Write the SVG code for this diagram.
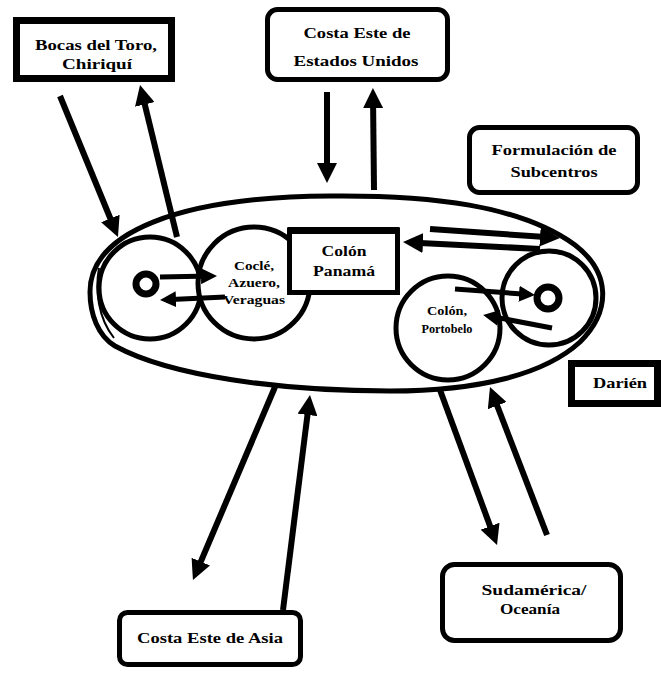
<svg xmlns="http://www.w3.org/2000/svg" width="661" height="675" viewBox="0 0 661 675">
<style>
.t{font-family:"Liberation Serif","Times New Roman",serif;font-weight:bold;font-size:15px;fill:#000;text-anchor:middle}
.s{font-size:13px}
.box{fill:#fff;stroke:#000}
.c{fill:#fff;stroke:#000;stroke-width:5}
.a{stroke:#000;stroke-width:6;fill:none;marker-end:url(#ah)}
.b{stroke:#000;stroke-width:5;fill:none;marker-end:url(#ahs)}
</style>
<defs>
<marker id="ah" viewBox="0 0 20 20" refX="13" refY="10" markerWidth="20" markerHeight="20" markerUnits="userSpaceOnUse" orient="auto"><path d="M0,0 L20,10 L0,20 z" fill="#000"/></marker>
<marker id="ahs" viewBox="0 0 16 16" refX="10" refY="8" markerWidth="16" markerHeight="16" markerUnits="userSpaceOnUse" orient="auto"><path d="M0,0 L16,8 L0,16 z" fill="#000"/></marker>
</defs>
<rect width="661" height="675" fill="#fff"/>
<g id="region">
<path d="M90,292 C90,232 180,197 330,196 C430,195 520,205 575,245 C610,272 612,310 580,342 C545,374 480,391 390,391 C280,391 170,376 115,346 C98,336 90,314 90,292 Z" fill="none" stroke="#000" stroke-width="5"/>
<path d="M99,268 C95,290 98,318 114,338" fill="none" stroke="#000" stroke-width="2"/>
</g>
<g id="bocas-circle"><circle class="c" cx="150" cy="288" r="51"/><circle cx="146" cy="284" r="10" fill="#fff" stroke="#000" stroke-width="7"/></g>
<g id="cocle"><circle class="c" cx="254" cy="283" r="56"/>
<text class="t s" x="254" y="270" textLength="40" lengthAdjust="spacingAndGlyphs">Coclé,</text>
<text class="t s" x="254" y="287" textLength="52" lengthAdjust="spacingAndGlyphs">Azuero,</text>
<text class="t s" x="254" y="304" textLength="62" lengthAdjust="spacingAndGlyphs">Veraguas</text></g>
<g id="colon-circle"><circle class="c" cx="448" cy="328" r="52"/>
<text class="t s" x="447" y="315" textLength="40" lengthAdjust="spacingAndGlyphs">Colón,</text>
<text class="t s" x="447" y="333" textLength="51" lengthAdjust="spacingAndGlyphs">Portobelo</text></g>
<g id="darien-circle"><circle class="c" cx="549" cy="298" r="47"/><circle cx="548" cy="298" r="11" fill="#fff" stroke="#000" stroke-width="7"/></g>
<g id="colon-panama"><rect class="box" x="289.5" y="230.5" width="108" height="62" stroke-width="5"/><path d="M287,227 L400,227 L395,234 L292,234 Z" fill="#000"/>
<text class="t" x="344" y="256" textLength="45" lengthAdjust="spacingAndGlyphs">Colón</text>
<text class="t" x="344" y="276" textLength="62" lengthAdjust="spacingAndGlyphs">Panamá</text></g>
<g id="bocas"><rect class="box" x="16.5" y="20.5" width="155" height="58" stroke-width="7"/>
<text class="t" x="96" y="50" textLength="122" lengthAdjust="spacingAndGlyphs">Bocas del Toro,</text>
<text class="t" x="97" y="69" textLength="70" lengthAdjust="spacingAndGlyphs">Chiriquí</text></g>
<g id="eeuu"><rect class="box" x="267.5" y="9.5" width="180" height="70" rx="10" stroke-width="5"/>
<text class="t" x="357" y="38" textLength="107" lengthAdjust="spacingAndGlyphs">Costa Este de</text>
<text class="t" x="356" y="66" textLength="125" lengthAdjust="spacingAndGlyphs">Estados Unidos</text></g>
<g id="subcentros"><rect class="box" x="469.5" y="127.5" width="168" height="65" rx="10" stroke-width="5"/>
<text class="t" x="554" y="155" textLength="125" lengthAdjust="spacingAndGlyphs">Formulación de</text>
<text class="t" x="554" y="177" textLength="87" lengthAdjust="spacingAndGlyphs">Subcentros</text></g>
<g id="darien"><rect class="box" x="571.5" y="363.5" width="86" height="40" stroke-width="7"/>
<text class="t" x="620" y="388" textLength="54" lengthAdjust="spacingAndGlyphs">Darién</text></g>
<g id="asia"><rect class="box" x="119.5" y="612.5" width="181" height="52" rx="8" stroke-width="5"/>
<text class="t" x="210" y="643" textLength="146" lengthAdjust="spacingAndGlyphs">Costa Este de Asia</text></g>
<g id="sudamerica"><rect class="box" x="442.5" y="564.5" width="178" height="76" rx="12" stroke-width="5"/>
<text class="t" x="534" y="595" textLength="105" lengthAdjust="spacingAndGlyphs">Sudamérica/</text>
<text class="t" x="530" y="614" textLength="60" lengthAdjust="spacingAndGlyphs">Oceanía</text></g>
<g id="connectors">
<line class="a" x1="60" y1="96" x2="115.3" y2="230.5"/>
<line class="a" x1="177" y1="237" x2="141.7" y2="91.8"/>
<line class="a" x1="327" y1="92" x2="327" y2="176"/>
<line class="a" x1="374" y1="190" x2="373" y2="95"/>
<line class="a" x1="275" y1="387" x2="195.7" y2="573.6"/>
<line class="a" x1="283" y1="610" x2="309.1" y2="402"/>
<line class="a" x1="440" y1="390" x2="494.6" y2="538.4"/>
<line class="a" x1="547" y1="535" x2="492.5" y2="393.5"/>
<line class="a" x1="430" y1="229" x2="553" y2="237.5"/>
<line class="a" x1="540" y1="249" x2="410" y2="242.4"/>
<line class="b" x1="160" y1="277" x2="211" y2="276"/>
<line class="b" x1="225" y1="297" x2="166" y2="299.7"/>
<line class="b" x1="455" y1="289" x2="529" y2="294.5"/>
<line class="b" x1="552" y1="328" x2="489" y2="316"/>
</g>
</svg>
